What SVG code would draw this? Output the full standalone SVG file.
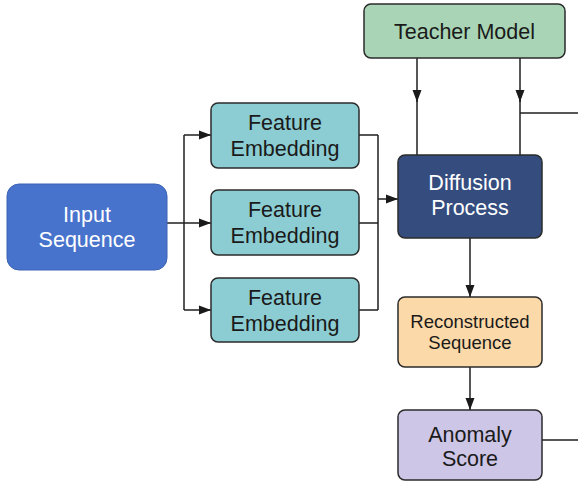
<svg xmlns="http://www.w3.org/2000/svg" width="578" height="482" viewBox="0 0 578 482">
<defs>
<marker id="arr" markerWidth="12" markerHeight="10" refX="12" refY="5" orient="auto" markerUnits="userSpaceOnUse">
<path d="M0,0.5 L12,5 L0,9.5 Z" fill="#1a1a1a"/>
</marker>
<style>
.box{stroke:#2b2b2b;stroke-width:1.5}
.t{font-family:"Liberation Sans",Arial,sans-serif;font-size:21.5px;text-anchor:middle;fill:#1a1a1a}
.w{fill:#ffffff}
.c{fill:none;stroke:#1f1f1f;stroke-width:1.5}
</style>
</defs>
<rect width="578" height="482" fill="#ffffff"/>
<g id="connectors">
<path class="c" d="M167,223 H184"/>
<path class="c" d="M184,135 V310"/>
<path class="c" d="M184,135 H211" marker-end="url(#arr)"/>
<path class="c" d="M184,223 H211" marker-end="url(#arr)"/>
<path class="c" d="M184,310 H211" marker-end="url(#arr)"/>
<path class="c" d="M359,135 H378 M359,223 H378 M359,310 H378 M378,135 V310"/>
<path class="c" d="M378,199 H398" marker-end="url(#arr)"/>
<path class="c" d="M417,58 V102" marker-end="url(#arr)"/>
<path class="c" d="M417,100 V155"/>
<path class="c" d="M520,58 V102" marker-end="url(#arr)"/>
<path class="c" d="M520,100 V155"/>
<path class="c" d="M520,113 H578"/>
<path class="c" d="M470,238 V297" marker-end="url(#arr)"/>
<path class="c" d="M470,367 V410" marker-end="url(#arr)"/>
<path class="c" d="M542,440 H578"/>
</g>
<g id="input">
<rect x="7" y="184" width="160" height="86" rx="12" fill="#4873cc" stroke="#3d63b3" stroke-width="1"/>
<text class="t w" x="87" y="222">Input</text>
<text class="t w" x="87" y="247">Sequence</text>
</g>
<g id="fe1">
<rect class="box" x="211" y="103" width="148" height="65" rx="7" fill="#8ccdd3"/>
<text class="t" x="285" y="130">Feature</text>
<text class="t" x="285" y="156">Embedding</text>
</g>
<g id="fe2">
<rect class="box" x="211" y="190" width="148" height="65" rx="7" fill="#8ccdd3"/>
<text class="t" x="285" y="217">Feature</text>
<text class="t" x="285" y="243">Embedding</text>
</g>
<g id="fe3">
<rect class="box" x="211" y="278" width="148" height="64" rx="7" fill="#8ccdd3"/>
<text class="t" x="285" y="305">Feature</text>
<text class="t" x="285" y="331">Embedding</text>
</g>
<g id="teacher">
<rect class="box" x="364" y="4" width="201" height="54" rx="7" fill="#a9d5b6"/>
<text class="t" x="464.5" y="39">Teacher Model</text>
</g>
<g id="diffusion">
<rect class="box" x="398" y="155" width="144" height="83" rx="7" fill="#344d7e"/>
<text class="t w" x="470" y="190">Diffusion</text>
<text class="t w" x="470" y="215">Process</text>
</g>
<g id="recon">
<rect class="box" x="398" y="297" width="144" height="70" rx="7" fill="#fcd9a8"/>
<text class="t" x="470" y="328" style="font-size:18.5px">Reconstructed</text>
<text class="t" x="470" y="349" style="font-size:18.5px">Sequence</text>
</g>
<g id="anomaly">
<rect class="box" x="398" y="410" width="144" height="70" rx="7" fill="#cec6e6"/>
<text class="t" x="470" y="442">Anomaly</text>
<text class="t" x="470" y="466">Score</text>
</g>
</svg>
